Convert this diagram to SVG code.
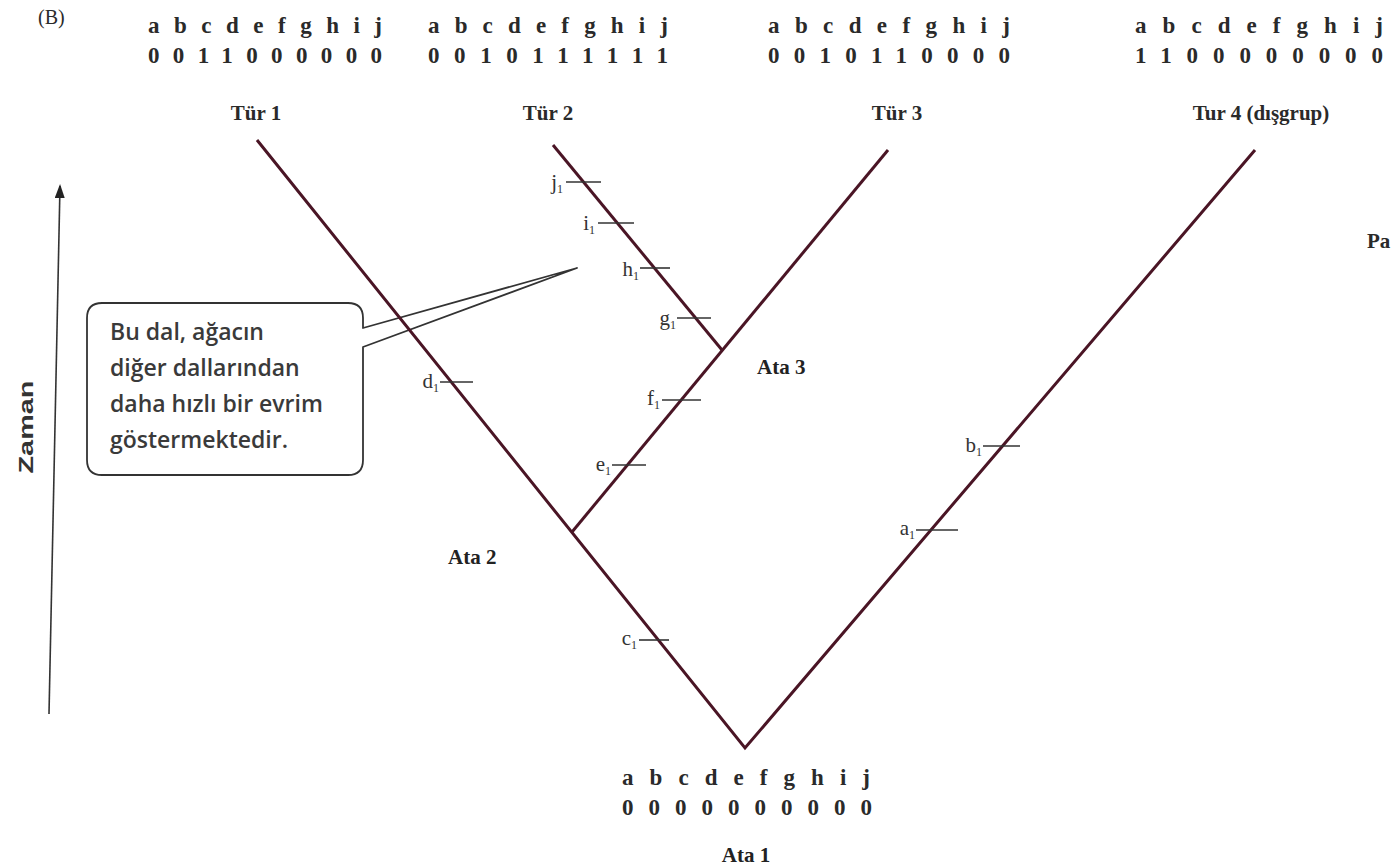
<svg xmlns="http://www.w3.org/2000/svg" width="1391" height="868" viewBox="0 0 1391 868">
<style>
.ser{font-family:"Liberation Serif","DejaVu Serif",serif;fill:#2a2a2a;}
.row{font-size:23px;font-weight:bold;}
.tur{font-size:21px;font-weight:bold;text-anchor:middle;}
.ata{font-family:"Liberation Serif",serif;font-size:21px;font-weight:bold;fill:#222;}
.lbl{font-family:"Liberation Serif",serif;font-size:21px;fill:#333;text-anchor:end;}
.sub{font-size:12px;}
.br{stroke:#4a1525;stroke-width:3;fill:none;stroke-linejoin:miter;}
.tick{stroke:#333;stroke-width:1.6;}
.call{font-family:"Open Sans","Noto Sans",sans-serif;font-size:23px;font-weight:600;fill:#3a3a3a;}
</style>
<defs>
<marker id="ah" markerWidth="14" markerHeight="10" refX="12" refY="5" orient="auto" markerUnits="userSpaceOnUse">
<path d="M0,0 L14,5 L0,10 Z" fill="#222"/>
</marker>
</defs>
<rect width="1391" height="868" fill="#fff"/>
<text x="38" y="24" class="ser" font-size="20">(B)</text>

<g id="tur1">
<text x="148" y="33" class="ser row" textLength="234" lengthAdjust="spacing">abcdefghij</text>
<text x="148" y="63" class="ser row" textLength="234" lengthAdjust="spacing">0011000000</text>
<text x="256" y="120" class="ser tur">Tür 1</text>
</g>
<g id="tur2">
<text x="428" y="33" class="ser row" textLength="240" lengthAdjust="spacing">abcdefghij</text>
<text x="428" y="63" class="ser row" textLength="240" lengthAdjust="spacing">0010111111</text>
<text x="548" y="120" class="ser tur">Tür 2</text>
</g>
<g id="tur3">
<text x="768" y="33" class="ser row" textLength="242" lengthAdjust="spacing">abcdefghij</text>
<text x="768" y="63" class="ser row" textLength="242" lengthAdjust="spacing">0010110000</text>
<text x="897" y="120" class="ser tur">Tür 3</text>
</g>
<g id="tur4">
<text x="1135" y="33" class="ser row" textLength="248" lengthAdjust="spacing">abcdefghij</text>
<text x="1135" y="63" class="ser row" textLength="248" lengthAdjust="spacing">1100000000</text>
<text x="1261" y="120" class="ser tur">Tur 4 (dışgrup)</text>
</g>
<text x="1367" y="248" class="ser" font-size="21" font-weight="bold">Pa</text>

<g id="zaman">
<line x1="49" y1="714" x2="60" y2="186" stroke="#333" stroke-width="1.6" marker-end="url(#ah)"/>
<text transform="translate(33,427) rotate(-90)" text-anchor="middle" font-family="Liberation Sans,sans-serif" font-size="21" font-weight="bold" fill="#333" textLength="93" lengthAdjust="spacingAndGlyphs">Zaman</text>
</g>

<g id="callout">
<path d="M363,347 L363,460 Q363,475 348,475 L102,475 Q87,475 87,460 L87,318 Q87,303 102,303 L348,303 Q363,303 363,318 L363,328 L577,268 Z" fill="#fff" stroke="#333" stroke-width="1.8" stroke-linejoin="round"/>
<text class="call" x="110" y="340">Bu dal, ağacın</text>
<text class="call" x="110" y="376">diğer dallarından</text>
<text class="call" x="110" y="412">daha hızlı bir evrim</text>
<text class="call" x="110" y="448">göstermektedir.</text>
</g>

<g id="connectors">
<path class="br" d="M257,140 L745,748 L1255,150"/>
<path class="br" d="M572,532 L888,150"/>
<path class="br" d="M722,350 L553,145"/>
<line class="tick" x1="566" y1="182" x2="601" y2="182"/>
<line class="tick" x1="598" y1="223" x2="634" y2="223"/>
<line class="tick" x1="640" y1="268" x2="670" y2="268"/>
<line class="tick" x1="677" y1="318" x2="711" y2="318"/>
<line class="tick" x1="662" y1="400" x2="701" y2="400"/>
<line class="tick" x1="612" y1="465" x2="646" y2="465"/>
<line class="tick" x1="440" y1="382" x2="473" y2="382"/>
<line class="tick" x1="639" y1="640" x2="669" y2="640"/>
<line class="tick" x1="983" y1="446" x2="1020" y2="446"/>
<line class="tick" x1="916" y1="530" x2="958" y2="530"/>
</g>

<g id="marks">
<text class="lbl" x="563" y="189">j<tspan class="sub" dy="4">1</tspan></text>
<text class="lbl" x="595" y="230">i<tspan class="sub" dy="4">1</tspan></text>
<text class="lbl" x="639" y="276">h<tspan class="sub" dy="4">1</tspan></text>
<text class="lbl" x="676" y="325">g<tspan class="sub" dy="4">1</tspan></text>
<text class="lbl" x="660" y="405">f<tspan class="sub" dy="4">1</tspan></text>
<text class="lbl" x="611" y="471">e<tspan class="sub" dy="4">1</tspan></text>
<text class="lbl" x="439" y="388">d<tspan class="sub" dy="4">1</tspan></text>
<text class="lbl" x="637" y="645">c<tspan class="sub" dy="4">1</tspan></text>
<text class="lbl" x="982" y="452">b<tspan class="sub" dy="4">1</tspan></text>
<text class="lbl" x="915" y="535">a<tspan class="sub" dy="4">1</tspan></text>
</g>

<g id="ata3"><text class="ata" x="757" y="374">Ata 3</text></g>
<g id="ata2"><text class="ata" x="448" y="564">Ata 2</text></g>
<g id="ata1">
<text x="622" y="785" class="ser row" textLength="248" lengthAdjust="spacing">abcdefghij</text>
<text x="622" y="815" class="ser row" textLength="250" lengthAdjust="spacing">0000000000</text>
<text class="ata" x="746" y="862" text-anchor="middle">Ata 1</text>
</g>
</svg>
